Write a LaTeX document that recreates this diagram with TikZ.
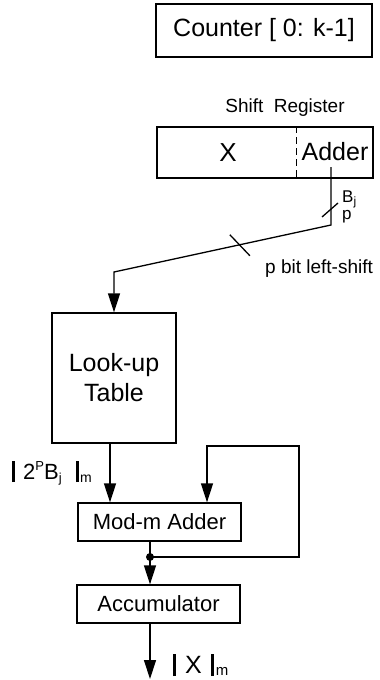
\documentclass[tikz,border=0pt]{standalone}
\usepackage{fontspec}
\setmainfont{Liberation Sans}
\usetikzlibrary{arrows.meta,calc}

\begin{document}
\begin{tikzpicture}[x=1pt,y=-1pt,
  wire/.style={line width=1.3pt},
  arr/.style={wire,-{Triangle[length=19pt,width=12pt]}},
  blk/.style={draw,line width=1.3pt,inner sep=0pt,rectangle},
  big/.style={font=\fontsize{25}{30}\selectfont},
  mid/.style={font=\fontsize{22}{26}\selectfont},
  small/.style={font=\fontsize{19}{23}\selectfont},
  tiny/.style={font=\fontsize{17}{20}\selectfont},
  lbl/.style={anchor=base west,inner sep=0pt},
  ]
\useasboundingbox (0,0) rectangle (380,680);

% counter
\node[blk,big,minimum width=216pt,minimum height=53pt] (counter) at (264,30.5) {Counter [ 0: k-1]};

% shift register with its two fields
\node[small] (srlabel) at (285,108) {Shift\ \ Register};
\node[blk,minimum width=216pt,minimum height=51pt] (sreg) at (265,152.5) {};
\node[font=\fontsize{26}{30}\selectfont] (xval) at (228,152.5) {X};
\node[big,inner sep=0pt] (adder) at (335,152) {Adder};
\draw[wire,dash pattern=on 7pt off 4pt]
  ($(sreg.north west)+(140,0)$) -- ($(sreg.south west)+(140,0)$);

% look-up table
\node[blk,big,align=center,minimum width=124pt,minimum height=130pt] (lut) at (114,378) {Look-up\\Table};

% p-bit bus from the shift register to the table
\coordinate (bout) at (331,167);
\coordinate (bdrop) at (331,225);
\coordinate (bturn) at (114,272);
\draw[arr] (bout) -- (bdrop) -- (bturn) -- (lut.north);
\draw[wire] ($(bdrop)+(-9,-8)$) -- ($(bdrop)+(7,-22)$);
\coordinate (sl) at ($(bdrop)!0.42!(bturn)$);
\draw[wire] ($(sl)+(-10,-10)$) -- ($(sl)+(10,11)$);
\node[lbl,tiny] (bj) at (342,202) {B\raisebox{-3pt}{\fontsize{12}{12}\selectfont j}};
\node[lbl,tiny] (pw) at (342,219) {p};
\node[lbl,small] (shiftlbl) at (265,273) {p bit left-shift};

% adder and accumulator
\node[blk,mid,minimum width=163pt,minimum height=38pt] (madd) at (159.5,522) {Mod-m Adder};
\node[blk,mid,minimum width=163pt,minimum height=38pt] (acc) at (158.5,604) {Accumulator};

\coordinate (lx) at (110,0);
\draw[arr] (lut.south -| lx) -- (madd.north -| lx);
\node[lbl,font=\fontsize{22}{26}\selectfont] (lutval) at (12,479)
  {\rule[-3pt]{3pt}{21pt}\hspace{8pt}2\raisebox{9pt}{\fontsize{13}{13}\selectfont P}B\raisebox{-3pt}{\fontsize{13}{13}\selectfont j}\hspace{14pt}\rule[-3pt]{3.5pt}{21pt}\hspace{1pt}\raisebox{-3pt}{\fontsize{14}{14}\selectfont m}};

% feedback loop
\coordinate (j) at (150,557);
\coordinate (fbr) at (299,557);
\coordinate (fbt) at (299,446);
\coordinate (fbl) at (207,446);
\draw[wire] (madd.south -| j) -- (j);
\fill (j) circle (4pt);
\draw[arr] (j) -- (acc.north -| j);
\draw[arr] (j) -- (fbr) -- (fbt) -- (fbl) -- (madd.north -| fbl);

% output
\coordinate (out) at (150,679);
\draw[arr] (acc.south -| j) -- (out);
\node[lbl,big] (xmod) at (173,673) {\rule[-3pt]{3pt}{22pt}\hspace{9pt}X\hspace{9pt}\rule[-3pt]{3pt}{22pt}\hspace{2pt}\raisebox{-2.5pt}{\fontsize{15}{15}\selectfont m}};
\end{tikzpicture}
\end{document}
